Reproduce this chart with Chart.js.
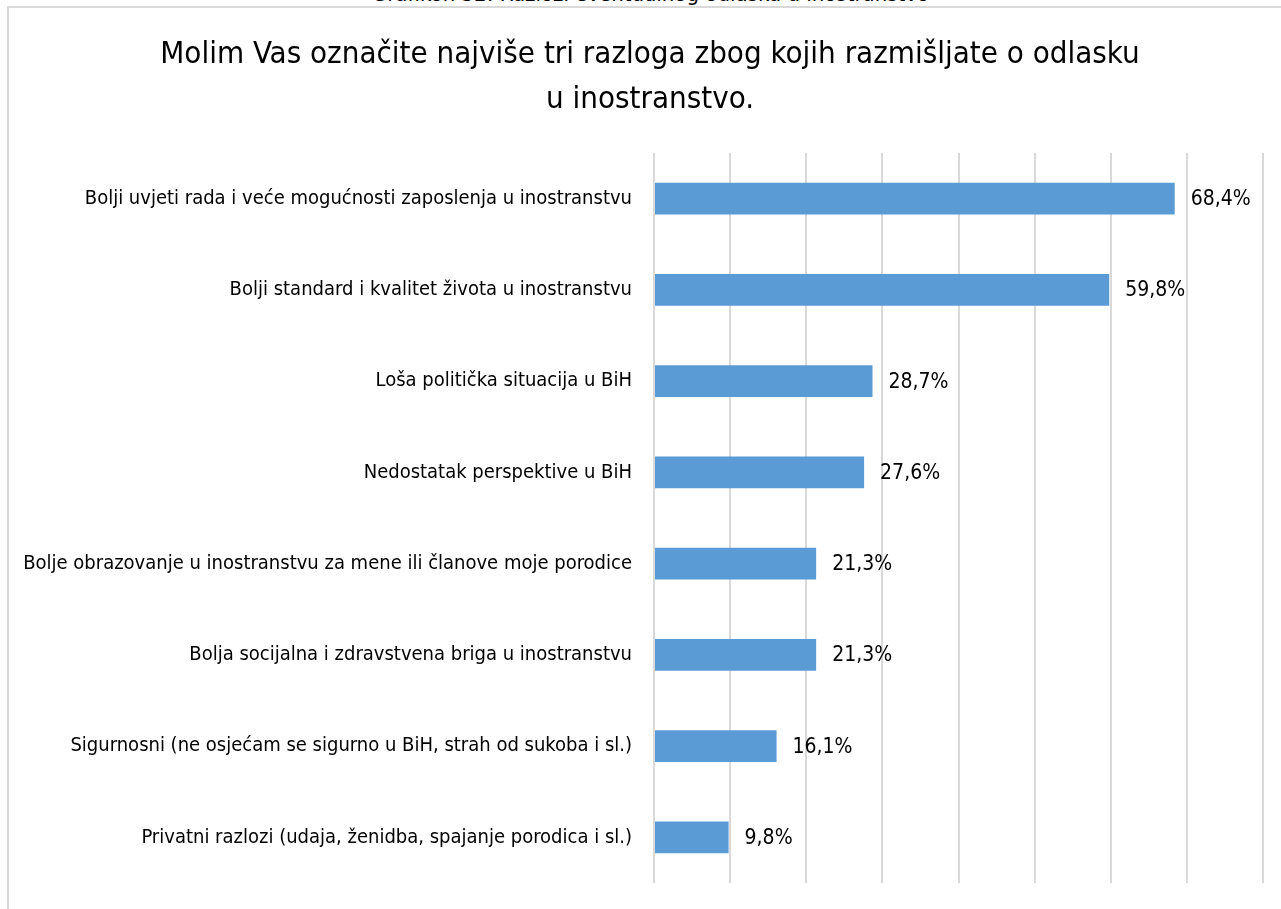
<!DOCTYPE html>
<html>
<head>
<meta charset="utf-8">
<script src="https://cdn.jsdelivr.net/npm/chart.js@4"></script>
<style>
  html, body { margin: 0; padding: 0; background: #fff; overflow: hidden; }
  body { width: 1281px; height: 909px; position: relative; }
  /* okvir grafikona */
  #okvir {
    position: absolute; left: 7px; top: 6px; width: 1400px; height: 1000px;
    border-left: 2px solid #d9d9d9; border-top: 2px solid #d9d9d9;
  }
  #naslov-iznad {
    position: absolute; left: 0; width: 1301px; top: -19px; text-align: center;
    font-family: "DejaVu Sans Condensed", sans-serif;
    font-size: 22px; color: #000;
  }
  #wrap { position: absolute; left: 0; top: 0; width: 1281px; height: 909px; }
</style>
</head>
<body>
<div id="naslov-iznad">Grafikon 32: Razlozi eventualnog odlaska u inostranstvo</div>
<div id="okvir"></div>
<div id="wrap"><canvas id="grafikon"></canvas></div>
<script>
// Podaci za grafikon
const razlozi = [
    'Bolji uvjeti rada i veće mogućnosti zaposlenja u inostranstvu',
    'Bolji standard i kvalitet života u inostranstvu',
    'Loša politička situacija u BiH',
    'Nedostatak perspektive u BiH',
    'Bolje obrazovanje u inostranstvu za mene ili članove moje porodice',
    'Bolja socijalna i zdravstvena briga u inostranstvu',
    'Sigurnosni (ne osjećam se sigurno u BiH, strah od sukoba i sl.)',
    'Privatni razlozi (udaja, ženidba, spajanje porodica i sl.)'
];
const procenti = [68.4, 59.8, 28.7, 27.6, 21.3, 21.3, 16.1, 9.8];
const naslov = ['Molim Vas označite najviše tri razloga zbog kojih razmišljate o odlasku', 'u inostranstvo.'];

const FONT = '"DejaVu Sans Condensed", sans-serif';

// Naslov u dva reda, centriran iznad cijelog okvira
const naslovPlugin = {
    id: 'naslovPlugin',
    beforeDraw(chart) {
        const ctx = chart.ctx;
        ctx.save();
        ctx.font = '31px ' + FONT;
        ctx.fillStyle = '#000';
        ctx.textAlign = 'center';
        ctx.textBaseline = 'middle';
        naslov.forEach((red, i) => ctx.fillText(red, 650, 55 + i * 45));
        ctx.restore();
    }
};

// Plugin za ispis vrijednosti desno od traka
const oznakeVrijednosti = {
    id: 'oznakeVrijednosti',
    afterDatasetsDraw(chart) {
        const ctx = chart.ctx;
        const meta = chart.getDatasetMeta(0);
        ctx.save();
        ctx.font = '21px ' + FONT;
        ctx.fillStyle = '#000';
        ctx.textBaseline = 'middle';
        ctx.textAlign = 'left';
        meta.data.forEach((bar, i) => {
            const tekst = procenti[i].toFixed(1).replace('.', ',') + '%';
            ctx.fillText(tekst, bar.x + 16, bar.y + 1);
        });
        ctx.restore();
    }
};

const ctx = document.getElementById('grafikon').getContext('2d');
new Chart(ctx, {
    type: 'bar',
    data: {
        labels: razlozi,
        datasets: [{
            data: procenti,
            backgroundColor: '#5b9bd5',
            barPercentage: 0.7,
            categoryPercentage: 0.5
        }]
    },
    options: {
        indexAxis: 'y',
        responsive: true,
        maintainAspectRatio: false,
        animation: false,
        layout: { padding: { left: 0, right: 18, top: 153, bottom: 24 } },
        scales: {
            x: {
                min: 0,
                max: 80,
                ticks: { display: false, stepSize: 10 },
                grid: { color: '#d9d9d9', lineWidth: 2, drawTicks: false },
                border: { display: false },
                afterFit(scale) { scale.height = 0; }
            },
            y: {
                grid: { display: false },
                border: { display: false },
                ticks: {
                    color: '#000',
                    padding: 14,
                    font: { family: FONT, size: 20 }
                },
                afterFit(scale) { scale.width = 654; }
            }
        },
        plugins: {
            legend: { display: false },
            tooltip: { enabled: false },
            title: { display: false }
        }
    },
    plugins: [naslovPlugin, oznakeVrijednosti]
});
</script>
</body>
</html>
